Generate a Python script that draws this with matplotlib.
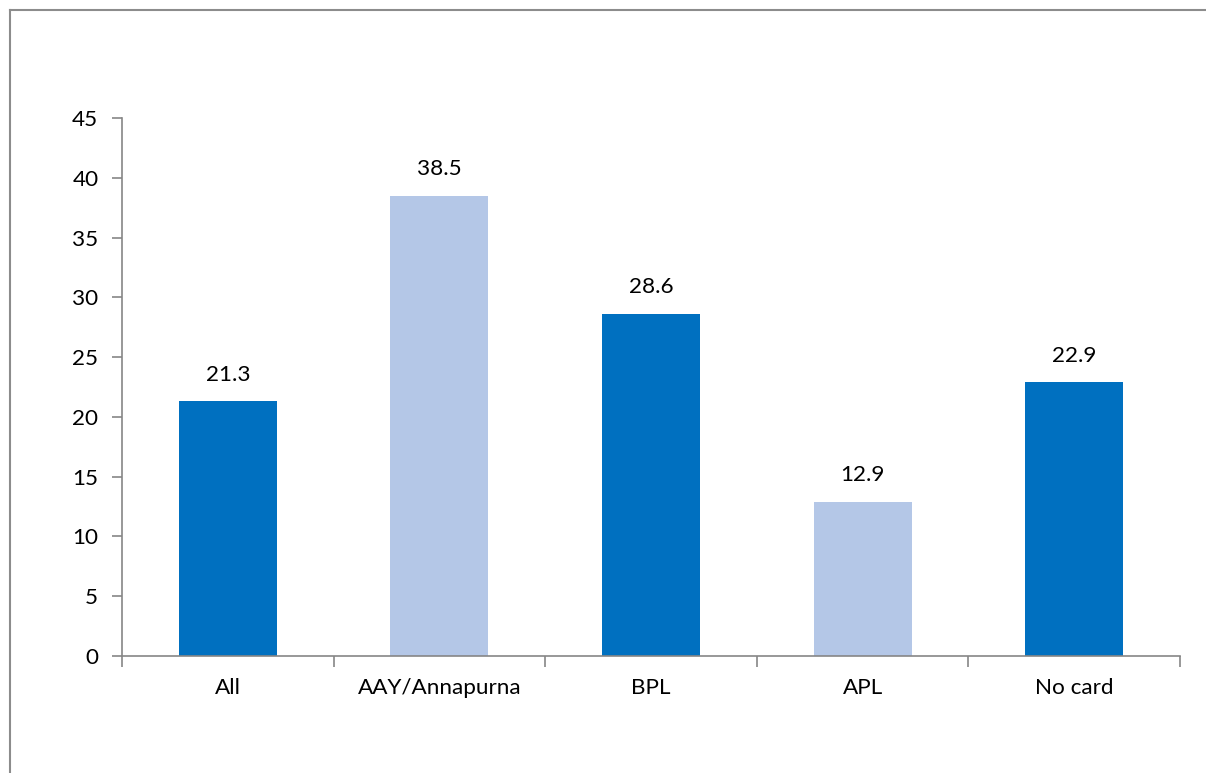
import matplotlib
matplotlib.use("Agg")
import matplotlib.pyplot as plt
from matplotlib.lines import Line2D
import numpy as np

categories = ["All", "AAY/Annapurna", "BPL", "APL", "No card"]
values = [21.3, 38.5, 28.6, 12.9, 22.9]
colors = ["#0070C0", "#B4C7E7", "#0070C0", "#B4C7E7", "#0070C0"]
yticks = [0, 5, 10, 15, 20, 25, 30, 35, 40, 45]

plt.rcParams['font.family'] = ['Lato', 'DejaVu Sans']
FS = 16.2

fig = plt.figure(figsize=(12.06, 7.73), dpi=100)
ax = fig.add_axes([122/1206, 1-656/773, (1180-122)/1206, (656-118)/773])

x = np.arange(len(categories))
ax.bar(x, values, width=0.463, color=colors, zorder=2)
for xi, v in zip(x, values):
    ax.annotate(f"{v}", (xi, v), xytext=(0, 12), textcoords="offset points",
                ha="center", va="bottom", fontsize=FS, color="black")

ax.set_xlim(-0.5, len(categories) - 0.5)
ax.set_ylim(0, 45)
ax.set_yticks(yticks)
ax.set_yticklabels([str(t) for t in yticks], fontsize=FS)
ax.set_xticks(x)
ax.set_xticklabels(categories, fontsize=FS)
ax.tick_params(axis='x', length=0, pad=16)
ax.set_xticks(np.arange(len(categories) + 1) - 0.5, minor=True)
ax.tick_params(axis='x', which='minor', length=8, color="#868686", width=1.2)
ax.tick_params(axis='y', length=7, color="#868686", width=1.2, pad=10)

for s in ["top", "right"]:
    ax.spines[s].set_visible(False)
for s in ["left", "bottom"]:
    ax.spines[s].set_color("#868686")
    ax.spines[s].set_linewidth(1.2)

fig.add_artist(Line2D([10/1206, 10/1206], [0, 1-10/773], transform=fig.transFigure,
                      color="#8c8c8c", linewidth=1.5))
fig.add_artist(Line2D([10/1206, 1], [1-10/773, 1-10/773], transform=fig.transFigure,
                      color="#8c8c8c", linewidth=1.5))

fig.savefig("out.png", dpi=100, facecolor="white")
